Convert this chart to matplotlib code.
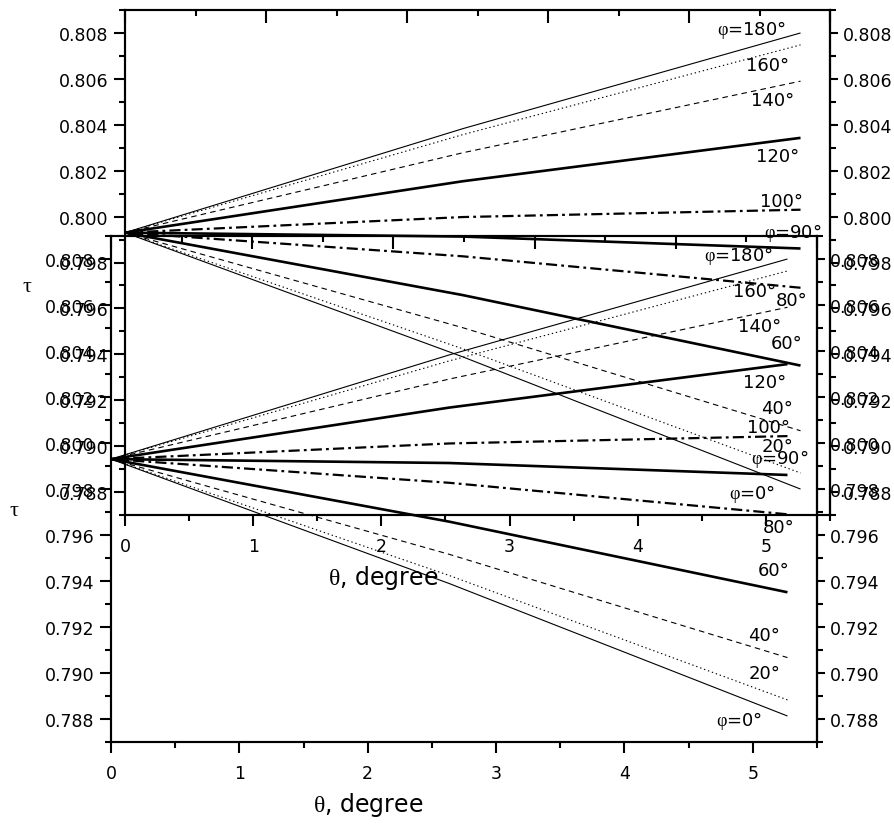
import numpy as np
import matplotlib
matplotlib.use('Agg')
import matplotlib.pyplot as plt
from matplotlib.ticker import MultipleLocator, FormatStrFormatter, FixedLocator

plt.rcParams['font.family'] = ['DejaVu Sans']
plt.rcParams['mathtext.fontset'] = 'custom'
plt.rcParams['mathtext.rm'] = 'DejaVu Sans'
plt.rcParams['mathtext.sf'] = 'Liberation Serif'
plt.rcParams['lines.scale_dashes'] = False

# ---- data ----
theta = [0.0, 2.635, 5.27]
tau_180 = [0.7993, 0.80383, 0.80800]
tau_160 = [0.7993, 0.80357, 0.80748]
tau_140 = [0.7993, 0.80278, 0.80590]
tau_120 = [0.7993, 0.80154, 0.80343]
tau_100 = [0.7993, 0.79998, 0.80030]
tau_90 = [0.7993, 0.79913, 0.79861]
tau_80 = [0.7993, 0.79827, 0.79690]
tau_60 = [0.7993, 0.79658, 0.79351]
tau_40 = [0.7993, 0.79516, 0.79067]
tau_20 = [0.7993, 0.79424, 0.78883]
tau_0 = [0.7993, 0.79389, 0.78813]

curve_labels = ['φ=180', '160', '140', '120', '100', 'φ=90', '80', '60', '40', '20', 'φ=0']
label_theta = [4.89, 5.01, 5.05, 5.09, 5.12, 5.21, 5.20, 5.16, 5.09, 5.09, 4.89]
label_tau = [0.80817, 0.80661, 0.80509, 0.80265, 0.80070, 0.79935, 0.79635, 0.79448, 0.79165, 0.79000, 0.78796]

series = [tau_180, tau_160, tau_140, tau_120, tau_100, tau_90, tau_80, tau_60, tau_40, tau_20, tau_0]

y_ticks = [0.788, 0.790, 0.792, 0.794, 0.796, 0.798, 0.800, 0.802, 0.804, 0.806, 0.808]
x_ticks = [0, 1, 2, 3, 4, 5]
top_major = [0, 1.1, 2.2, 3.3, 4.4, 5.5]
top_minor = [0.55, 1.65, 2.75, 3.85, 4.95]

# ---- styles ----
thin, thick = 0.8, 1.9
styles = [
    dict(lw=thin, ls='-'),
    dict(lw=thin, ls=(0, (1, 2))),
    dict(lw=thin, ls=(0, (4, 3))),
    dict(lw=thick, ls='-'),
    dict(lw=1.6, ls=(0, (8, 3, 2, 3))),
    dict(lw=thick, ls='-'),
    dict(lw=1.6, ls=(0, (8, 3, 2, 3))),
    dict(lw=thick, ls='-'),
    dict(lw=thin, ls=(0, (4, 3))),
    dict(lw=thin, ls=(0, (1, 2))),
    dict(lw=thin, ls='-'),
]

W, H = 894, 828
fig = plt.figure(figsize=(W / 100, H / 100), dpi=100)


def fmt_label(s):
    if s.startswith('φ='):
        return r'$\mathsf{φ}$=' + s[2:] + '°'
    return s + '°'


def draw(l, t, r, b, tau_pos, xl_pos):
    ax = fig.add_axes([l / W, 1 - b / H, (r - l) / W, (b - t) / H])
    ax.set_facecolor('none')
    for ys, st in zip(series, styles):
        ax.plot(theta, ys, color='black', solid_capstyle='butt', **st)
    for s, lx, ly in zip(curve_labels, label_theta, label_tau):
        ax.text(lx, ly, fmt_label(s), ha='center', va='center', fontsize=13)
    ax.set_xlim(0, 5.5)
    ax.set_ylim(0.787, 0.809)
    for sp in ax.spines.values():
        sp.set_linewidth(1.5)
    ax.xaxis.set_major_locator(FixedLocator(x_ticks))
    ax.xaxis.set_minor_locator(MultipleLocator(0.5))
    ax.yaxis.set_major_locator(FixedLocator(y_ticks))
    ax.yaxis.set_minor_locator(MultipleLocator(0.001))
    ax.yaxis.set_major_formatter(FormatStrFormatter('%.3f'))
    ax.tick_params(axis='both', which='major', direction='out', length=8, width=1.5, labelsize=12.5)
    ax.tick_params(axis='both', which='minor', direction='out', length=4, width=1.5)
    ax.tick_params(axis='x', which='major', pad=8)
    ax.tick_params(axis='y', which='major', pad=4)
    # right axis
    sy = ax.secondary_yaxis('right')
    sy.yaxis.set_major_locator(FixedLocator(y_ticks))
    sy.yaxis.set_minor_locator(MultipleLocator(0.001))
    sy.yaxis.set_major_formatter(FormatStrFormatter('%.3f'))
    sy.spines['right'].set_linewidth(1.5)
    sy.tick_params(which='major', direction='out', length=6, width=1.5, labelsize=12.5, pad=3)
    sy.tick_params(which='minor', direction='out', length=4, width=1.5)
    # top axis (ticks pointing inward)
    tx = ax.twiny()
    tx.set_xlim(0, 5.5)
    tx.set_facecolor('none')
    tx.xaxis.set_major_locator(FixedLocator(top_major))
    tx.xaxis.set_minor_locator(FixedLocator(top_minor))
    for sp in tx.spines.values():
        sp.set_linewidth(1.5)
    tx.tick_params(axis='x', which='major', direction='in', length=9, width=1.5,
                   top=True, bottom=False, labeltop=False, labelbottom=False)
    tx.tick_params(axis='x', which='minor', direction='in', length=4, width=1.5,
                   top=True, bottom=False)
    tx.tick_params(axis='y', left=False, right=False, labelleft=False, labelright=False)
    fig.text(tau_pos[0] / W, 1 - tau_pos[1] / H, 'τ', family='Liberation Serif', fontsize=16,
             ha='center', va='center')
    fig.text(xl_pos[0] / W, 1 - xl_pos[1] / H, r'$\mathsf{θ}$, degree', fontsize=17,
             ha='center', va='center')
    return ax


draw(125, 11, 830, 516, (27, 287), (383, 578))
draw(111, 237, 817, 743, (14, 512), (368, 805))

fig.savefig('out.png', dpi=100)
